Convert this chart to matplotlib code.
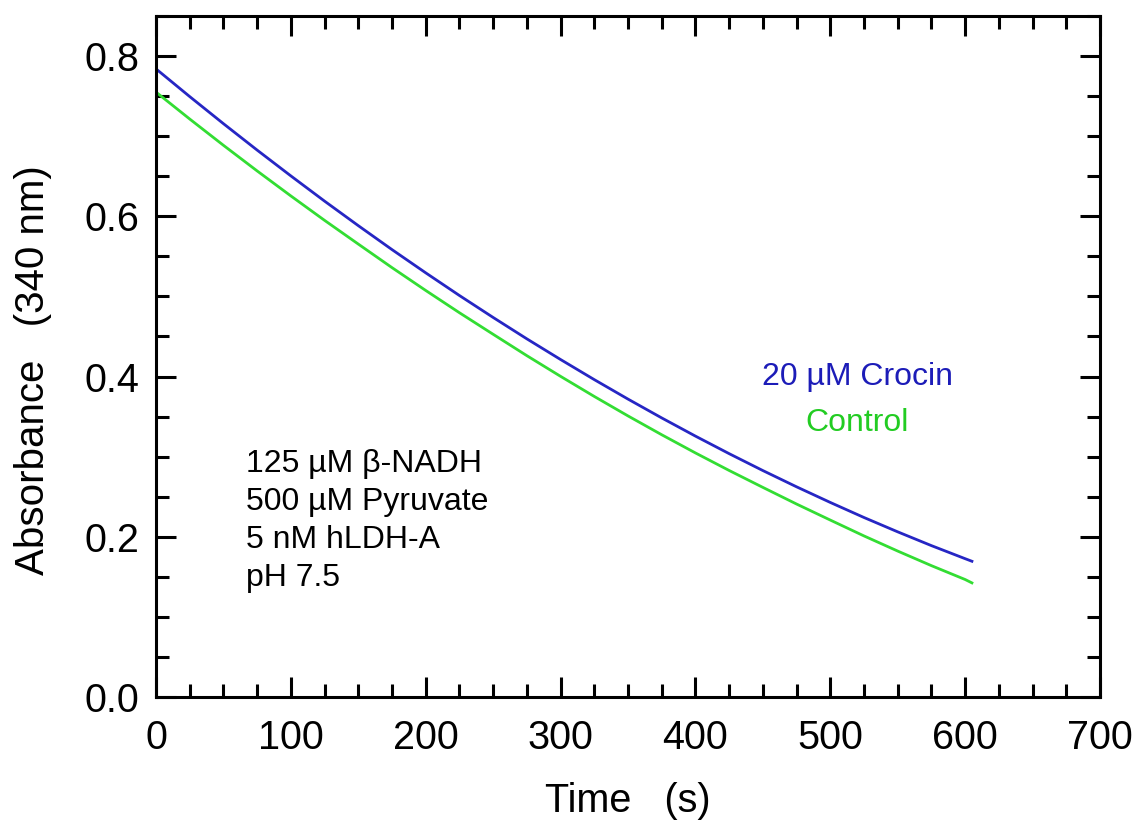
import matplotlib
matplotlib.use('Agg')
import matplotlib.pyplot as plt
from matplotlib.ticker import MultipleLocator

plt.rcParams['font.family'] = ['Liberation Sans', 'DejaVu Sans']

# time (s) and absorbance at 340 nm
time_s = [0, 25, 50, 75, 100, 125, 150, 175, 200, 225, 250, 275, 300,
          325, 350, 375, 400, 425, 450, 475, 500, 525, 550, 575, 600, 605]
crocin = [0.7840, 0.7494, 0.7156, 0.6826, 0.6504, 0.6189, 0.5883, 0.5584,
          0.5294, 0.5011, 0.4737, 0.4470, 0.4212, 0.3961, 0.3718, 0.3483,
          0.3256, 0.3037, 0.2826, 0.2623, 0.2428, 0.2240, 0.2061, 0.1889,
          0.1726, 0.1694]
control = [0.7550, 0.7214, 0.6886, 0.6566, 0.6254, 0.5949, 0.5653, 0.5359,
           0.5074, 0.4796, 0.4527, 0.4260, 0.4002, 0.3751, 0.3508, 0.3273,
           0.3046, 0.2827, 0.2616, 0.2408, 0.2208, 0.2010, 0.1821, 0.1639,
           0.1466, 0.1424]

conditions = ["125 \u00b5M \u03b2-NADH", "500 \u00b5M Pyruvate", "5 nM hLDH-A", "pH 7.5"]

blue = "#2626c4"
green = "#33dd33"

fig = plt.figure(figsize=(11.39, 8.35), dpi=100)
ax = fig.add_axes([0.137, 0.1653, 0.8288, 0.8155])

ax.plot(time_s, control, color=green, lw=2.0)
ax.plot(time_s, crocin, color=blue, lw=2.0)

ax.set_xlim(0, 700)
ax.set_ylim(0, 0.85)
ax.xaxis.set_major_locator(MultipleLocator(100))
ax.xaxis.set_minor_locator(MultipleLocator(25))
ax.yaxis.set_major_locator(MultipleLocator(0.2))
ax.yaxis.set_minor_locator(MultipleLocator(0.05))
ax.yaxis.set_major_formatter(plt.FormatStrFormatter('%.1f'))

ax.tick_params(which='both', direction='in', top=True, right=True, width=2.2,
               labelsize=28.5)
ax.tick_params(axis='x', which='major', length=14.5, pad=16)
ax.tick_params(axis='y', which='major', length=14.5, pad=12)
ax.tick_params(which='minor', length=9.5)
for s in ax.spines.values():
    s.set_linewidth(2.2)

ax.set_xlabel("Time   (s)", fontsize=28.5, labelpad=18)
ax.set_ylabel("Absorbance   (340 nm)", fontsize=29)
ax.yaxis.set_label_coords(-0.11, 0.48)

# conditions block
y0 = 0.281
for i, line in enumerate(conditions):
    ax.text(67, y0 - i * 0.0475, line, fontsize=23, va='baseline', ha='left')

ax.text(520, 0.399, "20 \u00b5M Crocin", color="#1c1cb8", fontsize=23,
        ha='center', va='center')
ax.text(520, 0.3425, "Control", color="#22cc22", fontsize=23,
        ha='center', va='center')

plt.savefig("out.png", dpi=100)
